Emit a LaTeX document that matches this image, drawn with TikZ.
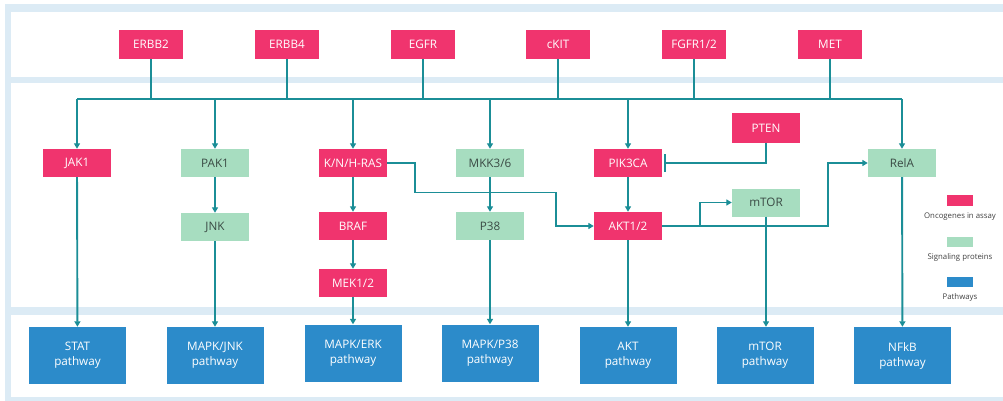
\documentclass[tikz,border=0pt]{standalone}
\usepackage{fontspec}
\setmainfont{Open Sans}
\usetikzlibrary{arrows.meta}
\definecolor{onco}{HTML}{F0346E}
\definecolor{sigp}{HTML}{A7DDC0}
\definecolor{pathc}{HTML}{2C8BCA}
\definecolor{teal2}{HTML}{1B8E97}
\definecolor{band}{HTML}{DCEBF5}
\definecolor{sigtext}{HTML}{3A4A44}
\tikzset{
  box/.style={inner sep=0pt, font=\fontsize{11.7}{13}\selectfont},
  onc/.style={box, fill=onco, text=white, minimum width=64pt, minimum height=29pt},
  onm/.style={box, fill=onco, text=white, minimum width=68pt, minimum height=28pt},
  sig/.style={box, fill=sigp, text=sigtext, minimum width=68pt, minimum height=28pt},
  pw/.style={box, fill=pathc, text=white, minimum width=97pt, minimum height=57pt, align=center, font=\fontsize{11.7}{15}\selectfont},
  conn/.style={draw=teal2, line width=1.9pt},
  arr/.style={conn, -{Triangle[length=5.5pt,width=6pt]}},
  inh/.style={conn, -{Bar[width=18pt,line width=1.9pt]}, shorten >=2pt},
  leg/.style={font=\fontsize{7.8}{9}\selectfont, text=black!75},
}
\begin{document}
\begin{tikzpicture}[x=1pt,y=-1pt]
\useasboundingbox (0,0) rectangle (1003,401);
\fill[white] (0,0) rectangle (1003,401);
\fill[band] (5,4) rectangle (1003,401);
\fill[white] (11,12) rectangle (1003,77);
\fill[white] (11,83) rectangle (1003,307);
\fill[white] (11,315) rectangle (1003,397);

% top receptors
\node[onc] (erbb2) at (151,44.5) {ERBB2};
\node[onc] (erbb4) at (287,44.5) {ERBB4};
\node[onc] (egfr) at (423,44.5) {EGFR};
\node[onc] (ckit) at (558,44.5) {cKIT};
\node[onc] (fgfr) at (694,44.5) {FGFR1/2};
\node[onc] (met) at (830,44.5) {MET};

% middle row 1
\node[onm] (jak1) at (77,163) {JAK1};
\node[sig] (pak1) at (215,163) {PAK1};
\node[onm] (ras) at (353,163) {K/N/H-RAS};
\node[sig] (mkk) at (490,163) {MKK3/6};
\node[onm] (pik) at (628,163) {PIK3CA};
\node[sig] (rela) at (902,163) {RelA};
\node[onm, minimum height=29pt] (pten) at (766,128) {PTEN};

% row 2
\node[sig] (jnk) at (215,227) {JNK};
\node[onm] (braf) at (353,226) {BRAF};
\node[sig] (p38) at (490,226) {P38};
\node[onm] (akt) at (628,226) {AKT1/2};
\node[sig] (mtor) at (766,202.5) {mTOR};
\node[onm] (mek) at (353,283) {MEK1/2};

% pathways
\node[pw] (stat) at (77.5,355.5) {STAT\\pathway};
\node[pw] (mjnk) at (215,355.5) {MAPK/JNK\\pathway};
\node[pw] (merk) at (353,353) {MAPK/ERK\\pathway};
\node[pw] (mp38) at (490,353) {MAPK/P38\\pathway};
\node[pw] (aktp) at (628,355.5) {AKT\\pathway};
\node[pw] (mtorp) at (765,355.5) {mTOR\\pathway};
\node[pw] (nfkb) at (902.5,355.5) {NFkB\\pathway};

% bus
\coordinate (busL) at (77,99);
\coordinate (busR) at (902,99);
\draw[conn] (busL) -- (busR);
\foreach \n in {erbb2,erbb4,egfr,ckit,fgfr,met}
  \draw[conn] (\n.south) -- (\n.south |- busL);
\foreach \n in {jak1,pak1,ras,mkk,pik,rela}
  \draw[arr] (\n.north |- busL) -- (\n.north);

% vertical chains
\draw[arr] (jak1) -- (stat);
\draw[arr] (pak1) -- (jnk);
\draw[arr] (jnk) -- (mjnk);
\draw[arr] (ras) -- (braf);
\draw[arr] (braf) -- (mek);
\draw[arr] (mek) -- (merk);
\draw[arr] (mkk) -- (p38);
\draw[arr] (p38) -- (mp38);
\draw[arr] (pik) -- (akt);
\draw[arr] (akt) -- (aktp);
\draw[arr] (mtor.south) -- (mtor.south |- mtorp.north);
\draw[arr] (rela) -- (nfkb);

% RAS -> AKT
\draw[arr] (ras.east) -- (415,163) -- (415,192.5) -- (556,192.5) -- (556,226) -- (akt.west);
% PTEN -| PIK3CA
\draw[inh] (pten.south) -- (766,163) -- (pik.east);
% AKT -> RelA, mTOR
\draw[arr] (akt.east) -- (828,226) -- (828,163) -- (rela.west);
\draw[arr] (700,226) -- (700,202.5) -- (mtor.west);

% legend
\fill[onco] (947,195) rectangle (973,206);
\node[leg] (l1) at (960,216.5) {Oncogenes in assay};
\fill[sigp] (947,237) rectangle (973,247);
\node[leg] (l2) at (960,257) {Signaling proteins};
\fill[pathc] (947,277) rectangle (973,287);
\node[leg] (l3) at (960,297) {Pathways};
\end{tikzpicture}
\end{document}
